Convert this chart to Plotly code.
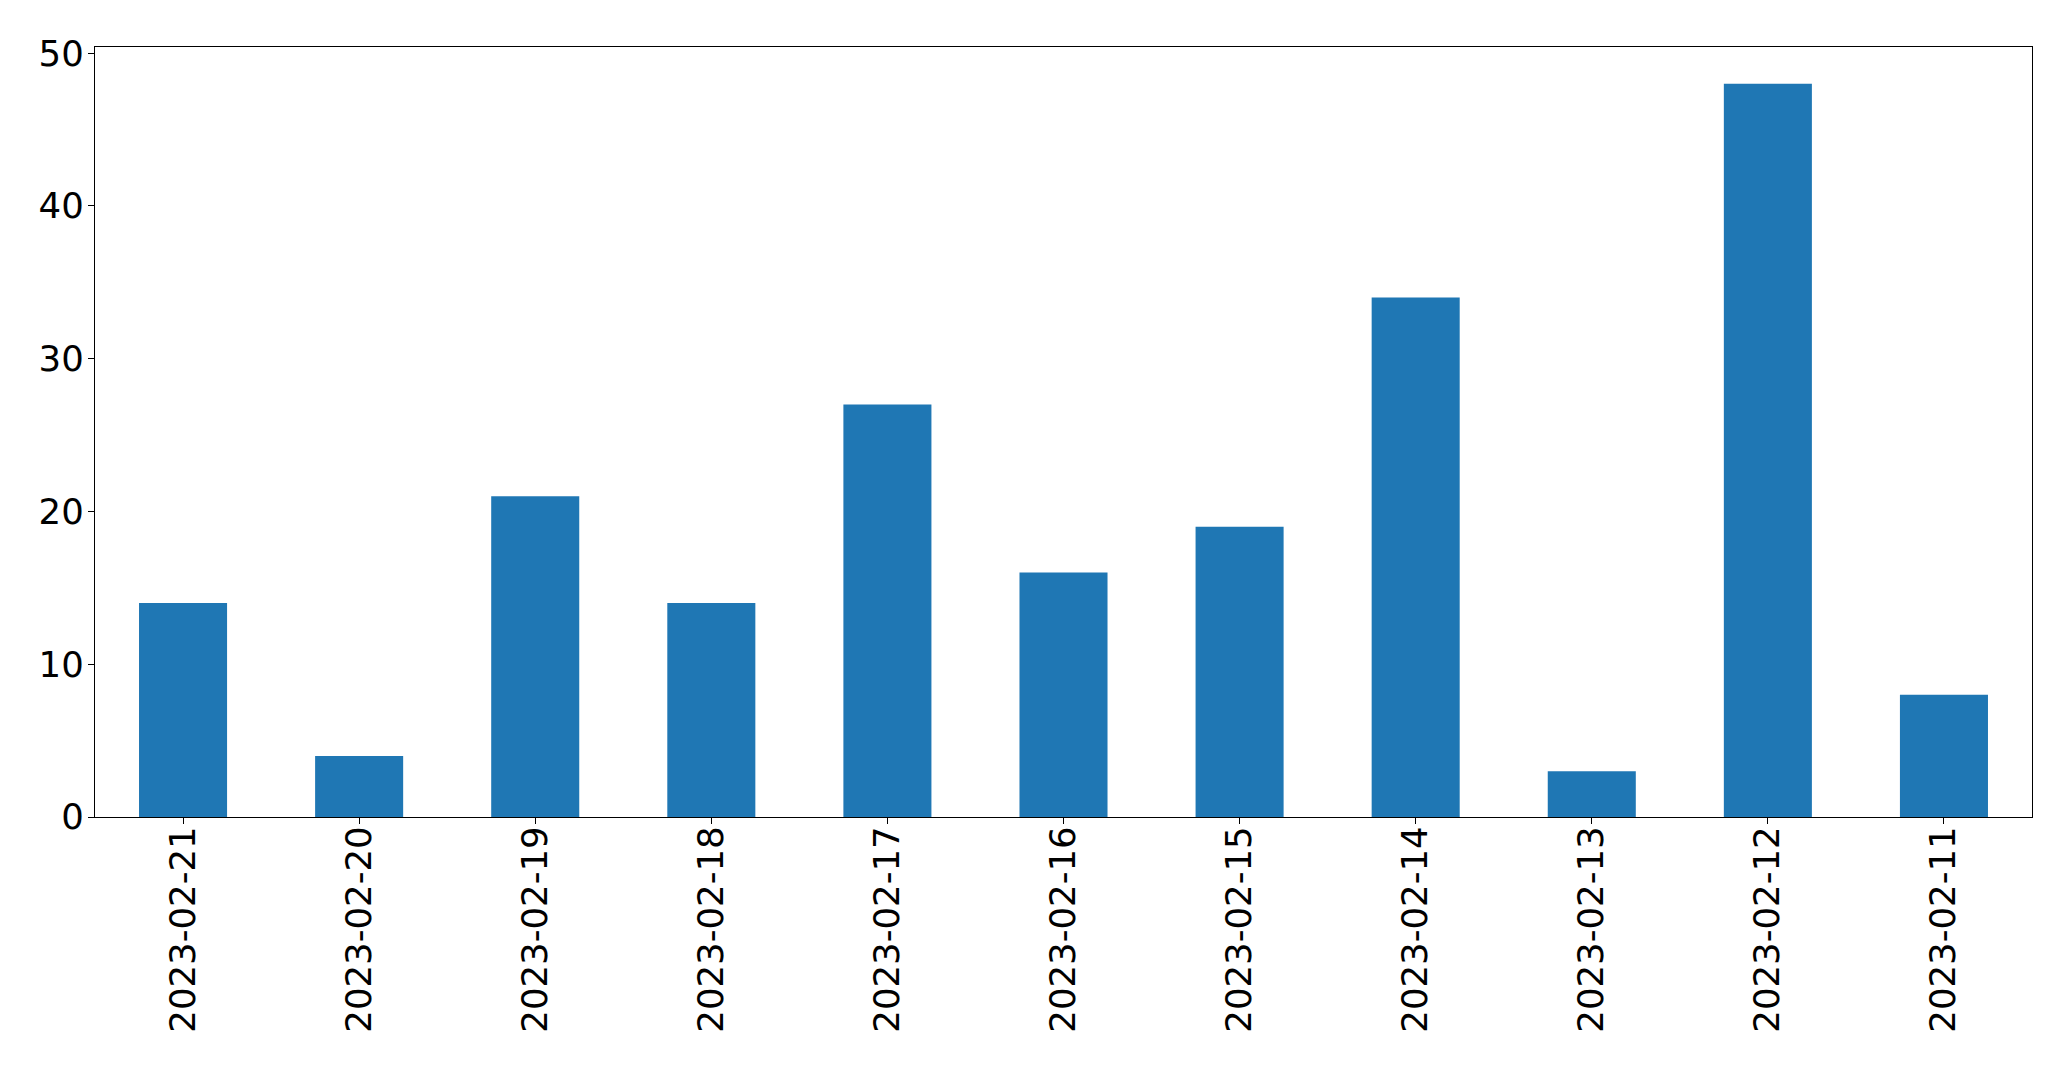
import plotly.graph_objects as go

dates = ["2023-02-21", "2023-02-20", "2023-02-19", "2023-02-18", "2023-02-17",
         "2023-02-16", "2023-02-15", "2023-02-14", "2023-02-13", "2023-02-12", "2023-02-11"]
counts = [14, 4, 21, 14, 27, 16, 19, 34, 3, 48, 8]

fig = go.Figure(go.Bar(x=dates, y=counts, width=0.5, hoverinfo="skip",
                       marker=dict(color="#1f77b4", line=dict(width=0))))

font = dict(family="DejaVu Sans", size=35.5, color="black")
fig.update_layout(
    width=2071, height=1069,
    margin=dict(l=95, r=39, t=47, b=252, pad=0, autoexpand=False),
    plot_bgcolor="white", paper_bgcolor="white",
    font=font, showlegend=False,
    xaxis=dict(type="category", range=[-0.5, 10.5], tickangle=-90, automargin=False,
               showline=True, mirror=True, linecolor="black", linewidth=1.3,
               ticks="outside", ticklen=6, tickwidth=1.3, tickcolor="black",
               showgrid=False, tickfont=font, ticklabelstandoff=-12),
    yaxis=dict(range=[0, 50.4], tickvals=[0, 10, 20, 30, 40, 50], automargin=False,
               showline=True, mirror=True, linecolor="black", linewidth=1.3,
               ticks="outside", ticklen=6, tickwidth=1.3, tickcolor="black",
               showgrid=False, zeroline=False, tickfont=font, ticklabelstandoff=-3),
)
fig.write_html("out.html", include_plotlyjs=True, full_html=True,
               default_width="2071px", default_height="1069px",
               config={"displayModeBar": False})
with open("out.html", encoding="utf-8") as f:
    html = f.read()
html = html.replace("<head>", "<head><style>html,body{margin:0;padding:0;overflow:hidden;}</style>", 1)
with open("out.html", "w", encoding="utf-8") as f:
    f.write(html)
